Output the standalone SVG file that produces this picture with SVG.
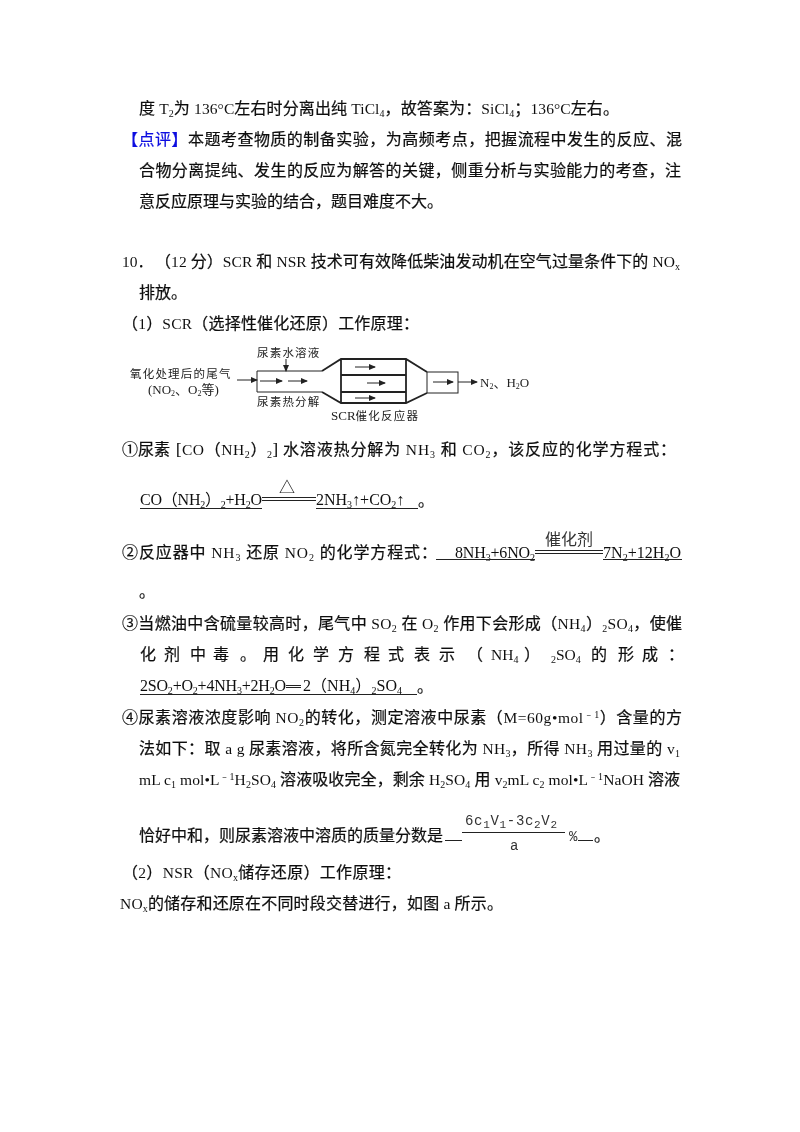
<svg xmlns="http://www.w3.org/2000/svg" width="800" height="1132" viewBox="0 0 800 1132">
<style>
text{font-family:"Liberation Serif","Noto Sans CJK SC",serif;font-size:16px;fill:#111;stroke:#111;stroke-width:.22px}
.L{font-size:15.500px;stroke:none}
.e{stroke:none}
.s{font-size:10px;baseline-shift:-3px;stroke:none}
.u{font-size:10px;baseline-shift:5px;stroke:none}
.b{fill:#1010e0;stroke:#1010e0}
.c{fill:#333;stroke:none}
.d{font-family:"Noto Sans CJK SC","Liberation Serif",sans-serif;font-size:11.5px;letter-spacing:1.2px;fill:#222;stroke:none}
.dl{font-family:"Liberation Serif","Noto Sans CJK SC",serif;font-size:13px;fill:#222;stroke:none}
.ds{font-size:8px;baseline-shift:-2px;stroke:none}
.m{font-family:"Liberation Mono",monospace;font-size:14px;fill:#333;stroke:none}
.ms{font-size:11px;baseline-shift:-3px;stroke:none}
.l{stroke:#222;stroke-width:1;fill:none}
.h{stroke:#222;stroke-width:1.8;fill:none}
.a{stroke:#222;stroke-width:1;fill:none;marker-end:url(#ah)}
</style>
<defs>
<marker id="ah" markerWidth="7" markerHeight="6" refX="6" refY="3" orient="auto" markerUnits="userSpaceOnUse"><path d="M0 0L7 3L0 6Z" fill="#222"/></marker>
<filter id="bl" x="-5%" y="-5%" width="110%" height="110%"><feGaussianBlur stdDeviation="0.35"/></filter>
<filter id="bd" x="-5%" y="-5%" width="110%" height="110%"><feGaussianBlur stdDeviation="0.45"/></filter>
</defs>
<rect width="800" height="1132" fill="#fff"/>
<g id="body" filter="url(#bl)">
<text x="139" y="114" textLength="480">度 <tspan class="L">T</tspan><tspan class="s">2</tspan>为 <tspan class="L">136°C</tspan>左右时分离出纯 <tspan class="L">TiCl</tspan><tspan class="s">4</tspan>，故答案为：<tspan class="L">SiCl</tspan><tspan class="s">4</tspan>；<tspan class="L">136°C</tspan>左右。</text>
<text x="122" y="145" textLength="560"><tspan class="b">【点评】</tspan>本题考查物质的制备实验，为高频考点，把握流程中发生的反应、混</text>
<text x="139" y="176" textLength="542">合物分离提纯、发生的反应为解答的关键，侧重分析与实验能力的考查，注</text>
<text x="139" y="207">意反应原理与实验的结合，题目难度不大。</text>
<text x="122" y="267"><tspan class="L">10．</tspan></text>
<text x="155" y="267" textLength="525">（<tspan class="L">12 </tspan>分）<tspan class="L">SCR </tspan>和 <tspan class="L">NSR </tspan>技术可有效降低柴油发动机在空气过量条件下的 <tspan class="L">NO</tspan><tspan class="s">x</tspan></text>
<text x="139" y="298">排放。</text>
<text x="122" y="329" textLength="297">（<tspan class="L">1</tspan>）<tspan class="L">SCR</tspan>（选择性催化还原）工作原理：</text>
<text x="122" y="455">①尿素</text>
<text x="176" y="455" textLength="102">[<tspan class="L">CO</tspan>（<tspan class="L">NH</tspan><tspan class="s">2</tspan>）<tspan class="s">2</tspan>]</text>
<text x="283" y="455" textLength="393">水溶液热分解为 <tspan class="L">NH</tspan><tspan class="s">3</tspan> 和 <tspan class="L">CO</tspan><tspan class="s">2</tspan>，该反应的化学方程式：</text>
<text class="e" x="140" y="505" textLength="122">CO（NH<tspan class="s">2</tspan>）<tspan class="s">2</tspan>+H<tspan class="s">2</tspan>O</text>
<text class="e" x="279" y="493">△</text>
<text class="e" x="316" y="505">2NH<tspan class="s">3</tspan>↑+CO<tspan class="s">2</tspan>↑</text>
<text x="418" y="506">。</text>
<text x="122" y="558" textLength="315">②反应器中 <tspan class="L">NH</tspan><tspan class="s">3</tspan> 还原 <tspan class="L">NO</tspan><tspan class="s">2</tspan> 的化学方程式：</text>
<text class="e" x="455" y="558" textLength="80">8NH<tspan class="s">3</tspan>+6NO<tspan class="s">2</tspan></text>
<text class="c" x="545" y="545">催化剂</text>
<text class="e" x="603" y="558" textLength="78">7N<tspan class="s">2</tspan>+12H<tspan class="s">2</tspan>O</text>
<text x="139" y="597">。</text>
<text x="122" y="629" textLength="560">③当燃油中含硫量较高时，尾气中 <tspan class="L">SO</tspan><tspan class="s">2</tspan> 在 <tspan class="L">O</tspan><tspan class="s">2</tspan> 作用下会形成（<tspan class="L">NH</tspan><tspan class="s">4</tspan>）<tspan class="s">2</tspan><tspan class="L">SO</tspan><tspan class="s">4</tspan>，使催</text>
<text x="140 164 190 213 240 263 288 313 338 364 388 414 439 467" y="660">化剂中毒。用化学方程式表示（</text>
<text x="491" y="660"><tspan class="L">NH</tspan><tspan class="s">4</tspan></text>
<text x="524" y="660">）</text>
<text x="551" y="660"><tspan class="s">2</tspan><tspan class="L">SO</tspan><tspan class="s">4</tspan></text>
<text x="591 618 642 668" y="660">的形成：</text>
<text class="e" x="140" y="691" textLength="146">2SO<tspan class="s">2</tspan>+O<tspan class="s">2</tspan>+4NH<tspan class="s">3</tspan>+2H<tspan class="s">2</tspan>O</text>
<text class="e" x="303" y="691" textLength="99">2（NH<tspan class="s">4</tspan>）<tspan class="s">2</tspan>SO<tspan class="s">4</tspan></text>
<text x="417" y="692">。</text>
<text x="122" y="723" textLength="560">④尿素溶液浓度影响 <tspan class="L">NO</tspan><tspan class="s">2</tspan>的转化，测定溶液中尿素（<tspan class="L">M=60g•mol</tspan><tspan class="u">﹣1</tspan>）含量的方</text>
<text x="139" y="754" textLength="541">法如下：取 <tspan class="L">a g </tspan>尿素溶液，将所含氮完全转化为 <tspan class="L">NH</tspan><tspan class="s">3</tspan>，所得 <tspan class="L">NH</tspan><tspan class="s">3</tspan> 用过量的 <tspan class="L">v</tspan><tspan class="s">1</tspan></text>
<text x="139" y="785" textLength="541"><tspan class="L">mL c</tspan><tspan class="s">1</tspan><tspan class="L"> mol•L</tspan><tspan class="u">﹣1</tspan><tspan class="L">H</tspan><tspan class="s">2</tspan><tspan class="L">SO</tspan><tspan class="s">4</tspan> 溶液吸收完全，剩余 <tspan class="L">H</tspan><tspan class="s">2</tspan><tspan class="L">SO</tspan><tspan class="s">4</tspan> 用 <tspan class="L">v</tspan><tspan class="s">2</tspan><tspan class="L">mL c</tspan><tspan class="s">2</tspan><tspan class="L"> mol•L</tspan><tspan class="u">﹣1</tspan><tspan class="L">NaOH </tspan>溶液</text>
<text x="139" y="841">恰好中和，则尿素溶液中溶质的质量分数是</text>
<text class="m" x="465" y="825" textLength="92">6c<tspan class="ms">1</tspan>V<tspan class="ms">1</tspan>-3c<tspan class="ms">2</tspan>V<tspan class="ms">2</tspan></text>
<text class="m" x="510" y="850">a</text>
<text class="m" x="569" y="841">%</text>
<text x="594" y="841">。</text>
<text x="122" y="878" textLength="279">（<tspan class="L">2</tspan>）<tspan class="L">NSR</tspan>（<tspan class="L">NO</tspan><tspan class="s">x</tspan>储存还原）工作原理：</text>
<text x="120" y="909" textLength="383"><tspan class="L">NO</tspan><tspan class="s">x</tspan>的储存和还原在不同时段交替进行，如图 <tspan class="L">a </tspan>所示。</text>
<g id="rules" stroke="#222" stroke-width="1" fill="none">
<path d="M140 508.500H262M316 508.500H418M436 559.500H535M603 559.500H682M140 694.500H417M445 840.500H462M578 840.500H593"/>
<path d="M262 497.500H316M262 500.500H316M535 550.500H603M535 553.500H603M462 832.500H565M286 685.500H301M286 687.500H301"/>
</g>
</g>
<g id="scr-diagram" filter="url(#bd)">
<g id="connectors">
<path class="a" d="M237 380H257"/>
<path class="a" d="M286 359V371"/>
<path class="a" d="M260 381H282"/>
<path class="a" d="M288 381H307"/>
<path class="a" d="M355 367H375"/>
<path class="a" d="M367 383H385"/>
<path class="a" d="M355 398H375"/>
<path class="a" d="M433 382H453"/>
<path class="a" d="M458 382H477"/>
</g>
<g id="inlet"><path class="l" d="M322 371H257V392H322"/></g>
<g id="reactor"><path class="h" d="M322 371L341 359H406L427 372M322 392L341 403H406L427 393M341 359V403M406 359V403M341 375H406M341 392H406"/></g>
<g id="outlet"><rect class="l" x="427" y="372" width="31" height="21"/></g>
<text class="d" x="130" y="378">氧化处理后的尾气</text>
<text class="dl" x="148" y="394">(NO<tspan class="ds">2</tspan>、O<tspan class="ds">2</tspan>等)</text>
<text class="d" x="257" y="357">尿素水溶液</text>
<text class="d" x="257" y="406">尿素热分解</text>
<text class="dl" x="331" y="420">SCR<tspan class="d">催化反应器</tspan></text>
<text class="dl" x="480" y="387">N<tspan class="ds">2</tspan>、H<tspan class="ds">2</tspan>O</text>
</g>
</svg>
